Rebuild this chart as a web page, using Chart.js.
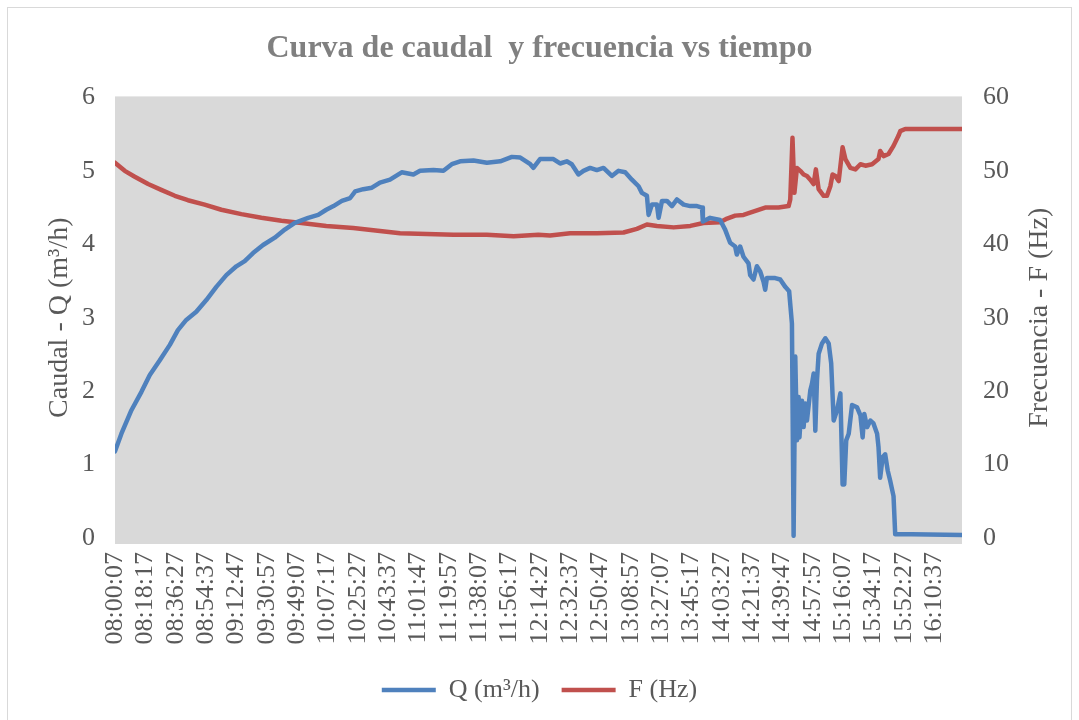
<!DOCTYPE html>
<html>
<head>
<meta charset="utf-8">
<script src="https://cdn.jsdelivr.net/npm/chart.js@4.4.1/dist/chart.umd.min.js"></script>
<style>
  html, body { margin: 0; padding: 0; background: #fff; }
  #wrap { width: 1079px; height: 720px; position: relative; }
</style>
</head>
<body>
<div id="wrap"><canvas id="grafico" width="1079" height="720"></canvas></div>
<script>
// etiquetas del eje X (cada 18:10)
const xTickLabels = ['08:00:07','08:18:17','08:36:27','08:54:37','09:12:47','09:30:57','09:49:07',
  '10:07:17','10:25:27','10:43:37','11:01:47','11:19:57','11:38:07','11:56:17','12:14:27',
  '12:32:37','12:50:47','13:08:57','13:27:07','13:45:17','14:03:27','14:21:37','14:39:47',
  '14:57:57','15:16:07','15:34:17','15:52:27','16:10:37'];

// caudal Q (m3/h)
const qTimes = ['08:00:07','08:03:57','08:09:57','08:15:57','08:20:57','08:26:57','08:32:57','08:37:47',
  '08:42:47','08:48:47','08:54:47','09:00:47','09:06:47','09:12:47','09:17:47','09:22:47','09:28:47',
  '09:35:47','09:41:47','09:47:47','09:55:47','10:01:47','10:06:37','10:10:57','10:15:57','10:20:57',
  '10:23:57','10:28:47','10:33:57','10:38:47','10:44:47','10:51:47','10:58:47','11:02:47','11:10:47',
  '11:16:47','11:21:47','11:26:47','11:34:47','11:42:47','11:50:47','11:57:47','12:02:47','12:08:47',
  '12:10:37','12:14:37','12:22:37','12:26:37','12:30:37','12:33:37','12:37:37','12:40:37','12:44:37',
  '12:48:37','12:52:37','12:57:37','13:01:37','13:05:37','13:09:37','13:13:37','13:15:37','13:18:37',
  '13:19:37','13:21:37','13:24:37','13:25:37','13:27:37','13:30:37','13:33:37','13:36:37','13:40:37',
  '13:44:37','13:48:37','13:51:37','13:52:07','13:56:27','14:02:27','14:05:27','14:08:27','14:11:27',
  '14:12:27','14:14:27','14:16:27','14:19:27','14:20:27','14:22:27','14:24:27','14:26:27','14:28:27',
  '14:29:27','14:30:27','14:35:27','14:38:27','14:41:27','14:43:47','14:45:27','14:46:27','14:47:27',
  '14:48:27','14:49:27','14:49:57','14:51:27','14:52:27','14:53:27','14:54:27','14:56:27','14:57:27',
  '14:58:27','14:59:27','15:00:27','15:01:27','15:03:27','15:05:27','15:07:27','15:08:57','15:10:27',
  '15:12:27','15:14:27','15:15:47','15:16:47','15:17:57','15:19:27','15:21:27','15:24:27','15:26:27',
  '15:27:47','15:28:47','15:30:27','15:32:27','15:34:17','15:36:27','15:37:17','15:38:17','15:39:47',
  '15:41:17','15:42:47','15:44:17','15:46:17','15:47:17','15:57:17','16:27:17'];
const qValues = [1.18,1.42,1.74,1.99,2.22,2.42,2.63,2.83,
  2.97,3.08,3.24,3.42,3.58,3.70,3.77,3.88,3.99,
  4.09,4.20,4.29,4.36,4.40,4.47,4.52,4.59,4.63,
  4.72,4.75,4.77,4.84,4.88,4.98,4.95,5.00,5.01,
  5.00,5.09,5.13,5.14,5.11,5.13,5.19,5.18,5.09,
  5.04,5.16,5.16,5.10,5.13,5.09,4.95,5.00,5.04,
  5.01,5.04,4.93,5.00,4.98,4.88,4.79,4.70,4.66,
  4.40,4.54,4.54,4.36,4.59,4.59,4.52,4.61,4.54,
  4.52,4.52,4.50,4.31,4.36,4.33,4.20,4.02,3.97,
  3.86,3.97,3.83,3.74,3.58,3.52,3.70,3.63,3.49,
  3.38,3.54,3.54,3.52,3.42,3.36,2.92,0.03,2.47,
  1.33,1.92,1.37,1.87,1.51,1.83,1.60,2.01,2.10,
  2.24,1.46,2.15,2.51,2.65,2.72,2.65,2.38,1.60,
  1.74,1.97,0.73,0.73,1.33,1.42,1.81,1.78,1.67,
  1.37,1.69,1.51,1.60,1.56,1.42,1.24,0.82,1.10,
  1.14,0.92,0.78,0.57,0.05,0.05,0.04];

// frecuencia F (Hz)
const fTimes = ['08:00:07','08:05:57','08:11:57','08:19:57','08:27:47','08:35:57','08:43:47','08:53:47',
  '09:03:47','09:15:47','09:27:47','09:39:47','09:51:47','10:06:37','10:22:47','10:50:47','11:22:47',
  '11:42:47','11:58:47','12:13:37','12:20:37','12:32:37','12:48:37','13:04:37','13:12:37','13:18:37',
  '13:24:37','13:34:37','13:44:37','13:52:27','14:02:27','14:06:37','14:11:27','14:16:27','14:20:27',
  '14:29:27','14:37:27','14:43:27','14:44:27','14:45:47','14:46:57','14:48:27','14:50:27','14:52:27',
  '14:54:27','14:56:27','14:58:27','14:59:47','15:01:27','15:04:27','15:06:27','15:08:27','15:09:47',
  '15:11:27','15:13:27','15:15:47','15:17:27','15:20:27','15:23:27','15:26:27','15:29:27','15:33:27',
  '15:37:17','15:38:17','15:40:17','15:43:17','15:46:17','15:49:17','15:50:17','15:53:17','16:27:17'];
const fValues = [51.1,50.0,49.2,48.2,47.4,46.6,46.0,45.4,
  44.7,44.1,43.6,43.2,42.9,42.5,42.2,41.5,41.3,
  41.3,41.1,41.3,41.2,41.5,41.5,41.6,42.1,42.7,
  42.5,42.3,42.5,42.9,43.0,43.5,43.9,44.0,44.3,
  45.0,45.0,45.2,46.1,54.5,47.0,50.4,50.0,49.5,
  49.3,48.8,48.2,50.2,47.5,46.6,46.6,47.9,49.5,
  49.3,48.6,53.2,51.6,50.4,50.2,50.9,50.7,50.9,
  51.6,52.7,52.0,52.3,53.4,54.8,55.4,55.7,55.7];

const fuente = '"Liberation Serif", "Times New Roman", serif';
const gris = '#595959';

function aSegundos(h) {
  const p = h.split(':').map(Number);
  return p[0] * 3600 + p[1] * 60 + p[2];
}
const t0 = aSegundos(xTickLabels[0]);
const tFin = aSegundos(qTimes[qTimes.length - 1]) - t0;

const puntosQ = qTimes.map((t, i) => ({ x: aSegundos(t) - t0, y: qValues[i] }));
const puntosF = fTimes.map((t, i) => ({ x: aSegundos(t) - t0, y: fValues[i] }));

// fondo gris del área de trazado + marco + título del eje derecho
const decoracion = {
  id: 'decoracion',
  beforeDraw(chart) {
    const { ctx, chartArea: a } = chart;
    ctx.save();
    ctx.fillStyle = '#fff';
    ctx.fillRect(0, 0, chart.width, chart.height);
    ctx.strokeStyle = '#d9d9d9';
    ctx.lineWidth = 1;
    ctx.strokeRect(7.5, 7.5, 1064, 730);
    ctx.fillStyle = '#d9d9d9';
    ctx.fillRect(a.left, a.top - 1, a.right - a.left, a.bottom - a.top + 7);
    ctx.restore();
  },
  afterDraw(chart) {
    const { ctx, chartArea: a } = chart;
    ctx.save();
    ctx.translate(1040, (a.top + a.bottom) / 2);
    ctx.rotate(-Math.PI / 2);
    ctx.font = '28px ' + fuente;
    ctx.fillStyle = gris;
    ctx.textAlign = 'center';
    ctx.textBaseline = 'middle';
    ctx.fillText('Frecuencia - F (Hz)', 0, 0);
    ctx.restore();
  }
};

new Chart(document.getElementById('grafico'), {
  type: 'line',
  data: {
    datasets: [
      { label: 'Q (m³/h)', data: puntosQ, yAxisID: 'y', borderColor: '#4f81bd', backgroundColor: '#4f81bd',
        borderWidth: 4.5, pointRadius: 0, tension: 0, borderJoinStyle: 'round', borderCapStyle: 'round' },
      { label: 'F (Hz)', data: puntosF, yAxisID: 'y1', borderColor: '#c0504d', backgroundColor: '#c0504d',
        borderWidth: 4.5, pointRadius: 0, tension: 0, borderJoinStyle: 'round', borderCapStyle: 'round' }
    ]
  },
  options: {
    responsive: false,
    animation: false,
    layout: { padding: { left: 0, right: 0, top: 0, bottom: 7 } },
    plugins: {
      title: {
        display: true,
        text: 'Curva de caudal  y frecuencia vs tiempo',
        color: '#808080',
        font: { family: fuente, size: 32, weight: 'bold', lineHeight: 1.2 },
        padding: { top: 30, bottom: 29 }
      },
      legend: {
        position: 'bottom',
        labels: {
          color: gris,
          font: { family: fuente, size: 26 },
          usePointStyle: true,
          pointStyle: 'line',
          pointStyleWidth: 54,
          padding: 22
        }
      },
      tooltip: { enabled: false }
    },
    scales: {
      x: {
        type: 'linear',
        min: 0,
        max: tFin,
        grid: { display: false, drawTicks: false },
        border: { display: false },
        afterBuildTicks: (scale) => {
          scale.ticks = xTickLabels.map(t => ({ value: aSegundos(t) - t0 }));
        },
        afterFit: (scale) => { scale.height = 117; },
        ticks: {
          autoSkip: false,
          minRotation: 90,
          maxRotation: 90,
          padding: 14,
          color: gris,
          font: { family: fuente, size: 26 },
          callback: (v, i) => xTickLabels[i]
        }
      },
      y: {
        position: 'left',
        min: 0,
        max: 6,
        grid: { display: false, drawTicks: false },
        border: { display: false },
        afterFit: (scale) => { scale.width = 115; },
        ticks: { stepSize: 1, padding: 20, color: gris, font: { family: fuente, size: 26 } },
        title: {
          display: true,
          text: 'Caudal - Q (m³/h)',
          color: gris,
          font: { family: fuente, size: 28, lineHeight: 1.2 },
          padding: { top: 43, bottom: 0 }
        }
      },
      y1: {
        position: 'right',
        min: 0,
        max: 60,
        grid: { display: false, drawTicks: false },
        border: { display: false },
        afterFit: (scale) => { scale.width = 117; },
        ticks: { stepSize: 10, padding: 21, color: gris, font: { family: fuente, size: 26 } }
      }
    }
  },
  plugins: [decoracion]
});
</script>
</body>
</html>
